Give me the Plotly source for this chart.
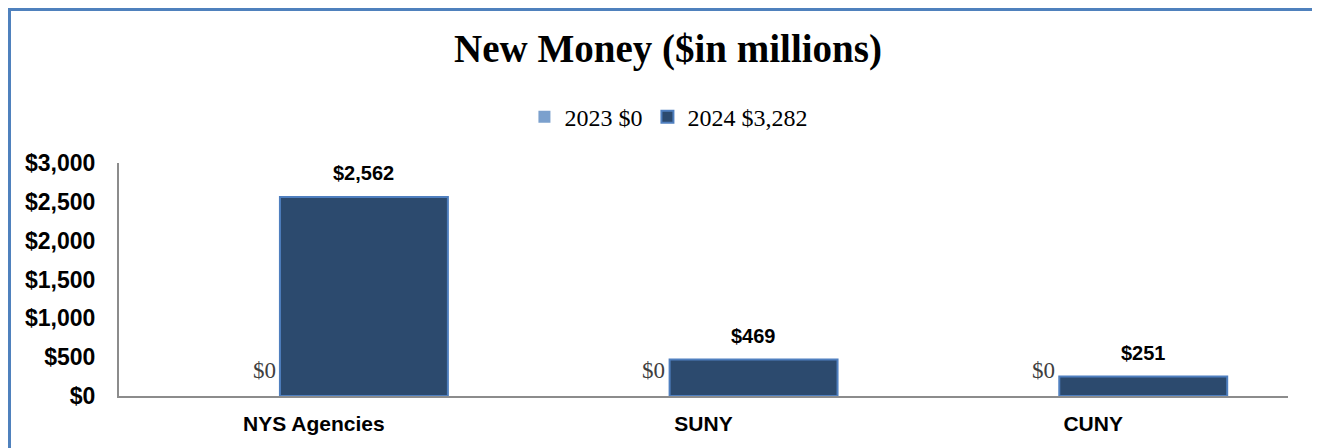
import plotly.graph_objects as go

categories = ["NYS Agencies", "SUNY", "CUNY"]
values_2023 = [0, 0, 0]
values_2024 = [2562, 469, 251]
legend_2023 = "2023 $0"
legend_2024 = "2024 $3,282"
y_tickvals = [0, 500, 1000, 1500, 2000, 2500, 3000]
y_ticktext = ["$0", "$500", "$1,000", "$1,500", "$2,000", "$2,500", "$3,000"]

FIG_W, FIG_H = 1320, 448
M_L, M_R, M_T, M_B = 111, 40, 155, 60
plot_w = FIG_W - M_L - M_R
plot_h = FIG_H - M_T - M_B
cat_px = plot_w / len(categories)

W = 0.431
OFF_2023 = -0.343
OFF_2024 = -0.087

fig = go.Figure()
fig.add_trace(go.Bar(
    x=categories, y=values_2023, name=legend_2023,
    width=W, offset=OFF_2023,
    marker=dict(color="#7BA0CD", line=dict(color="#7BA0CD", width=0)),
))
fig.add_trace(go.Bar(
    x=categories, y=values_2024, name=legend_2024,
    width=W, offset=OFF_2024,
    marker=dict(color="#2C4A6E", line=dict(color="#4F7FBF", width=2)),
))

annotations = []
for cat, v in zip(categories, values_2023):
    annotations.append(dict(
        x=cat, y=v, xref="x", yref="y", text=f"${v:,.0f}", showarrow=False,
        xanchor="center", yanchor="middle",
        xshift=(OFF_2023 + W / 2) * cat_px, yshift=26,
        font=dict(family="Liberation Serif", size=23, color="#404040")))
for cat, v in zip(categories, values_2024):
    annotations.append(dict(
        x=cat, y=v, xref="x", yref="y", text=f"<b>${v:,.0f}</b>", showarrow=False,
        xanchor="center", yanchor="middle",
        xshift=(OFF_2024 + W / 2) * cat_px, yshift=24,
        font=dict(family="Liberation Sans", size=20, color="#000000")))

# frame around the chart (in paper coordinates of the plot area)
bx0 = (1.5 - M_L) / plot_w
bx1 = (FIG_W - 11 - M_L) / plot_w
by1 = 1 + (M_T - 1.5) / plot_h
by0 = -(M_B + 20) / plot_h

fig.update_layout(
    width=FIG_W, height=FIG_H,
    barmode="overlay",
    paper_bgcolor="white", plot_bgcolor="white",
    margin=dict(l=M_L, r=M_R, t=M_T, b=M_B, autoexpand=False),
    title=dict(text="<b>New Money ($in millions)</b>", x=0.5, xanchor="center",
               y=1 - 40 / FIG_H, yanchor="middle", yref="container",
               font=dict(family="Liberation Serif", size=39, color="#000000")),
    legend=dict(orientation="h", x=0.47, xanchor="center", y=1.197, yanchor="middle",
                font=dict(family="Liberation Serif", size=24, color="#000000"),
                traceorder="normal", itemwidth=30),
    xaxis=dict(showline=True, linecolor="#8C8C8C", linewidth=2, showgrid=False,
               automargin=False, ticks="",
               tickfont=dict(family="Liberation Sans", size=21, color="#000000", weight="bold"),
               ticklabelstandoff=8),
    yaxis=dict(range=[0, 3000], showline=True, linecolor="#8C8C8C", linewidth=2,
               showgrid=False, zeroline=False, ticks="", automargin=False,
               tickvals=y_tickvals, ticktext=y_ticktext,
               tickfont=dict(family="Liberation Sans", size=23, color="#000000", weight="bold"),
               ticklabelstandoff=17),
    annotations=annotations,
    shapes=[dict(type="rect", xref="paper", yref="paper",
                 x0=bx0, x1=bx1, y0=by0, y1=by1,
                 line=dict(color="#4F81BD", width=3), layer="below")],
)

fig.write_html("out.html")
